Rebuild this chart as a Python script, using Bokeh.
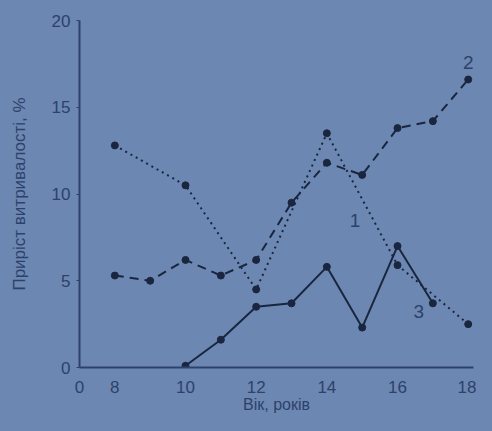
from bokeh.plotting import figure
from bokeh.models import FixedTicker, Label, Range1d
from bokeh.embed import file_html
from bokeh.resources import INLINE

# Data (age, years) and endurance gain, %
x1 = [8, 10, 12, 14, 16, 18]
y1 = [12.8, 10.5, 4.5, 13.5, 5.9, 2.5]

x2 = [8, 9, 10, 11, 12, 13, 14, 15, 16, 17, 18]
y2 = [5.3, 5.0, 6.2, 5.3, 6.2, 9.5, 11.8, 11.1, 13.8, 14.2, 16.6]

x3 = [10, 11, 12, 13, 14, 15, 16, 17]
y3 = [0.1, 1.6, 3.5, 3.7, 5.8, 2.3, 7.0, 3.7]

x_ticks = [7, 8, 10, 12, 14, 16, 18]
x_tick_labels = {7: "0"}
y_ticks = [0, 5, 10, 15, 20]

series_labels = ["1", "2", "3"]
label_x = [14.8, 18.0, 16.6]
label_y = [8.5, 17.6, 3.2]

BG = "#6c87b1"
TXT = "#2c426c"
LINE = "#1a263f"
FONT = "Liberation Sans"

p = figure(width=476, height=415, output_backend="svg", toolbar_location=None,
           x_range=Range1d(7, 18.15), y_range=Range1d(0, 20),
           min_border_left=79, min_border_right=3, min_border_top=20, min_border_bottom=48)
p.background_fill_color = BG
p.border_fill_color = None
p.outline_line_color = None
p.grid.visible = False

p.line(x1, y1, line_color=LINE, line_width=2, line_dash="2 4")
p.scatter(x1, y1, size=7, fill_color=LINE, line_color=LINE)
p.line(x2, y2, line_color=LINE, line_width=2, line_dash="9 6")
p.scatter(x2, y2, size=7, fill_color=LINE, line_color=LINE)
p.line(x3, y3, line_color=LINE, line_width=2)
p.scatter(x3, y3, size=7, fill_color=LINE, line_color=LINE)

for lab, lx, ly in zip(series_labels, label_x, label_y):
    p.add_layout(Label(x=lx, y=ly, text=lab, text_color=TXT, text_font=FONT,
                       text_font_size="19px", text_align="center",
                       text_baseline="middle"))

p.xaxis.ticker = FixedTicker(ticks=x_ticks)
p.xaxis.major_label_overrides = x_tick_labels
p.yaxis.ticker = FixedTicker(ticks=y_ticks)

for ax in (p.xaxis[0], p.yaxis[0]):
    ax.axis_line_color = TXT
    ax.axis_line_width = 2
    ax.major_tick_line_color = TXT
    ax.major_tick_out = 3
    ax.major_tick_in = 0
    ax.minor_tick_line_color = None
    ax.major_label_text_color = TXT
    ax.major_label_text_font = FONT
    ax.major_label_text_font_size = "17px"
    ax.axis_label_text_color = TXT
    ax.axis_label_text_font = FONT
    ax.axis_label_text_font_size = "16px"
    ax.axis_label_text_font_style = "normal"

p.yaxis.axis_label_text_font_size = "17px"
p.xaxis.major_tick_line_color = None
p.xaxis.major_label_standoff = 10
p.xaxis.axis_label = "Вік, років"
p.xaxis.axis_label_standoff = 0
p.yaxis.axis_label = "Приріст витривалості, %"
p.yaxis.major_label_standoff = 6
p.yaxis.axis_label_standoff = 20

html = file_html(p, INLINE)
html = html.replace("</head>", "<style>html,body{background:%s;}</style></head>" % BG, 1)
open("out.html", "w").write(html)
